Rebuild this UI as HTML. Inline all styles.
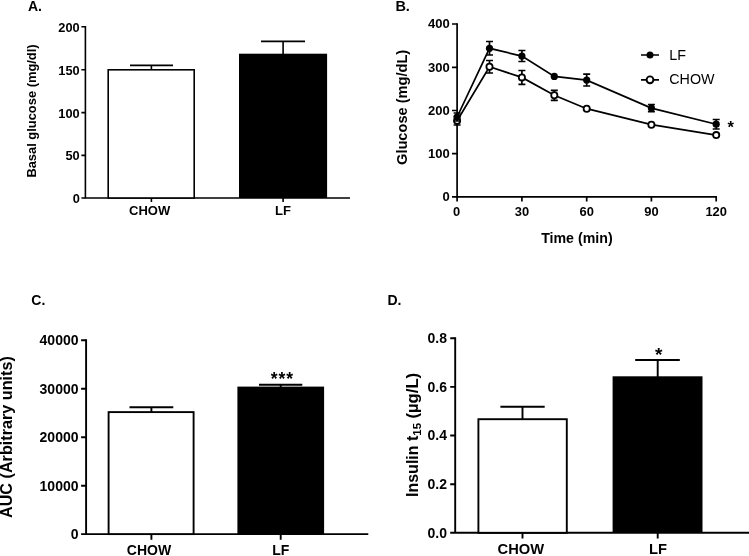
<!DOCTYPE html>
<html>
<head>
<meta charset="utf-8">
<title>Figure</title>
<style>
html,body{margin:0;padding:0;background:#fff;}
body{width:749px;height:556px;overflow:hidden;font-family:"Liberation Sans",sans-serif;}
svg{display:block;will-change:transform;filter:grayscale(1);}
text{font-family:"Liberation Sans",sans-serif;fill:#000;}
.b{font-weight:bold;}
</style>
</head>
<body>
<svg width="749" height="556" viewBox="0 0 749 556">
<rect x="0" y="0" width="749" height="556" fill="#fff"/>

<!-- ================= PANEL A ================= -->
<g id="pA" stroke="#000" stroke-width="1.6" fill="none" stroke-linecap="butt">
  <text class="b" x="28" y="11" font-size="14" stroke="none">A.</text>
  <!-- axes -->
  <path d="M85.4 25.9 V198 M84.6 198 H350"/>
  <!-- y ticks -->
  <path d="M81.4 26.7 H85.4 M81.4 69.7 H85.4 M81.4 112.6 H85.4 M81.4 155.4 H85.4 M81.4 198 H85.4"/>
  <!-- x ticks -->
  <path d="M151.4 198 V202 M283.1 198 V202"/>
  <!-- error bars -->
  <path d="M151.4 70 V65.4 M130 65.4 H173"/>
  <path d="M283.1 54 V41.4 M261 41.4 H305"/>
  <!-- bars -->
  <rect x="108.2" y="69.8" width="86" height="128.2" fill="#fff"/>
  <rect x="239" y="53.7" width="88.1" height="144.3" fill="#000" stroke="none"/>
  <g stroke="none" class="b" font-size="12.8" text-anchor="end">
    <text x="79.7" y="31.9">200</text>
    <text x="79.7" y="74.8">150</text>
    <text x="79.7" y="117.6">100</text>
    <text x="79.7" y="160.3">50</text>
    <text x="79.8" y="202.8">0</text>
  </g>
  <g stroke="none" class="b" font-size="13" text-anchor="middle">
    <text x="149.6" y="215.4">CHOW</text>
    <text x="283" y="215.4">LF</text>
  </g>
  <text class="b" stroke="none" font-size="12.9" text-anchor="middle" transform="translate(36.1 111) rotate(-90)">Basal glucose (mg/dl)</text>
</g>

<!-- ================= PANEL B ================= -->
<g id="pB" stroke="#000" stroke-width="1.7" fill="none">
  <text class="b" x="395.4" y="11" font-size="14.5" stroke="none">B.</text>
  <!-- axes -->
  <path d="M457.1 23.2 V201.6 M452 196.9 H717"/>
  <!-- y ticks -->
  <path d="M452 24 H457.1 M452 67.3 H457.1 M452 110.5 H457.1 M452 153.7 H457.1"/>
  <!-- x ticks -->
  <path d="M521.9 196.9 V201.6 M586.7 196.9 V201.6 M651.4 196.9 V201.6 M716.2 196.9 V201.6"/>
  <!-- CHOW series -->
  <g id="chow">
    <path d="M457.1 120.7 L489.5 66.8 L521.9 77.4 L554.3 95.3 L586.7 108.7 L651.4 124.7 L716.2 135.1"/>
    <path d="M457.1 116.5 V125 M453.6 116.5 H460.6 M453.6 125 H460.6"/>
    <path d="M489.5 60.5 V73 M486 60.5 H493 M486 73 H493"/>
    <path d="M521.9 70.5 V84.3 M518.4 70.5 H525.4 M518.4 84.3 H525.4"/>
    <path d="M554.3 90.3 V100.3 M550.8 90.3 H557.8 M550.8 100.3 H557.8"/>
    <g fill="#fff" stroke-width="1.8">
      <circle cx="457.1" cy="120.7" r="3.1"/><circle cx="489.5" cy="66.8" r="3.1"/><circle cx="521.9" cy="77.4" r="3.1"/>
      <circle cx="554.3" cy="95.3" r="3.1"/><circle cx="586.7" cy="108.7" r="3.1"/><circle cx="651.4" cy="124.7" r="3.1"/>
      <circle cx="716.2" cy="135.1" r="3.1"/>
    </g>
  </g>
  <!-- LF series -->
  <g id="lf">
    <path d="M457.1 117 L489.5 48.3 L521.9 56.1 L554.3 76.4 L586.7 80.1 L651.4 108.1 L716.2 124.2"/>
    <!-- error bars -->
    <path d="M457.1 113 V121 M453.6 113 H460.6 M453.6 121 H460.6"/>
    <path d="M489.5 41.5 V55 M486 41.5 H493 M486 55 H493"/>
    <path d="M521.9 50.5 V61.5 M518.4 50.5 H525.4 M518.4 61.5 H525.4"/>
    <path d="M586.7 74.2 V86 M583.2 74.2 H590.2 M583.2 86 H590.2"/>
    <path d="M651.4 104.5 V111.7 M647.9 104.5 H654.9 M647.9 111.7 H654.9"/>
    <path d="M716.2 119.5 V129 M712.7 119.5 H719.7 M712.7 129 H719.7"/>
    <g fill="#000" stroke="none">
      <circle cx="457.1" cy="117" r="3.6"/><circle cx="489.5" cy="48.3" r="3.6"/><circle cx="521.9" cy="56.1" r="3.6"/>
      <circle cx="554.3" cy="76.4" r="3.6"/><circle cx="586.7" cy="80.1" r="3.6"/><circle cx="651.4" cy="108.1" r="3.6"/>
      <circle cx="716.2" cy="124.2" r="3.6"/>
    </g>
  </g>
  <!-- legend -->
  <path d="M641 55 H659 M641 79.8 H659"/>
  <circle cx="650" cy="55" r="3.5" fill="#000" stroke="none"/>
  <circle cx="650" cy="79.8" r="3.4" fill="#fff" stroke-width="1.9"/>
  <g stroke="none" font-size="14.3">
    <text x="669.3" y="59.7">LF</text>
    <text x="669.3" y="84.1">CHOW</text>
  </g>
  <text class="b" stroke="none" font-size="16.5" x="727.6" y="132.6">*</text>
  <g stroke="none" class="b" font-size="13" text-anchor="end">
    <text x="449.8" y="28.2">400</text>
    <text x="449.8" y="71.5">300</text>
    <text x="449.8" y="114.7">200</text>
    <text x="449.8" y="157.8">100</text>
    <text x="449.8" y="200.9">0</text>
  </g>
  <g stroke="none" class="b" font-size="12.9" text-anchor="middle">
    <text x="456.7" y="215.9">0</text>
    <text x="521.9" y="215.9">30</text>
    <text x="586.7" y="215.9">60</text>
    <text x="651.4" y="215.9">90</text>
    <text x="716.2" y="215.9">120</text>
  </g>
  <text class="b" stroke="none" font-size="14.2" text-anchor="middle" x="576.9" y="243.1">Time (min)</text>
  <text class="b" stroke="none" font-size="14.6" text-anchor="middle" transform="translate(406.8 107.4) rotate(-90)">Glucose (mg/dL)</text>
</g>

<!-- ================= PANEL C ================= -->
<g id="pC" stroke="#000" stroke-width="1.9" fill="none">
  <text class="b" x="31.3" y="305.4" font-size="14" stroke="none">C.</text>
  <path d="M86.1 339.3 V534.1 M85.2 534.1 H368.3"/>
  <path d="M81.1 340.2 H86.1 M81.1 388.7 H86.1 M81.1 437.2 H86.1 M81.1 485.7 H86.1 M81.1 534.1 H86.1"/>
  <path d="M151.4 534.1 V539.8 M280.7 534.1 V539.8"/>
  <path d="M151.4 412 V407.2 M129.5 407.2 H173.3"/>
  <path d="M280.7 387 V384.7 M259 384.7 H302.3"/>
  <rect x="108.6" y="412.1" width="85" height="122" fill="#fff"/>
  <rect x="237.4" y="386.6" width="86.7" height="147.5" fill="#000" stroke="none"/>
  <g stroke="none" class="b" font-size="14" text-anchor="end">
    <text x="78.5" y="345">40000</text>
    <text x="78.5" y="393.5">30000</text>
    <text x="78.5" y="442">20000</text>
    <text x="78.5" y="490.5">10000</text>
    <text x="78.5" y="538.9">0</text>
  </g>
  <g stroke="none" class="b" font-size="14" text-anchor="middle">
    <text x="149" y="555.2">CHOW</text>
    <text x="280.8" y="555.2">LF</text>
  </g>
  <text class="b" stroke="none" font-size="17.5" letter-spacing="0.9" text-anchor="middle" x="282.3" y="385">***</text>
  <text class="b" stroke="none" font-size="16.2" text-anchor="middle" transform="translate(11.9 437.1) rotate(-90)">AUC (Arbitrary units)</text>
</g>

<!-- ================= PANEL D ================= -->
<g id="pD" stroke="#000" stroke-width="1.9" fill="none">
  <text class="b" x="387.5" y="305.4" font-size="14" stroke="none">D.</text>
  <path d="M455.2 337.3 V532.8 M450.2 532.8 H749"/>
  <path d="M450.2 338.2 H455.2 M450.2 386.9 H455.2 M450.2 435.5 H455.2 M450.2 484.2 H455.2"/>
  <path d="M522.5 532.8 V538.6 M657.7 532.8 V538.6"/>
  <path d="M522.5 419 V406.7 M500.4 406.7 H544.7"/>
  <path d="M657.7 377 V360 M635.2 360 H679.8"/>
  <rect x="478.4" y="419.2" width="88.4" height="113.6" fill="#fff"/>
  <rect x="612.6" y="376.3" width="89.9" height="156.5" fill="#000" stroke="none"/>
  <g stroke="none" class="b" font-size="14" text-anchor="end">
    <text x="447" y="343">0.8</text>
    <text x="447" y="391.7">0.6</text>
    <text x="447" y="440.3">0.4</text>
    <text x="447" y="489">0.2</text>
    <text x="447" y="537.6">0.0</text>
  </g>
  <g stroke="none" class="b" font-size="14.7" text-anchor="middle">
    <text x="520.8" y="554.4">CHOW</text>
    <text x="658" y="554.3">LF</text>
  </g>
  <text class="b" stroke="none" font-size="19" text-anchor="middle" x="658.8" y="360.6">*</text>
  <g class="b" stroke="none" transform="translate(418 497) rotate(-90)">
    <text font-size="16" x="0" y="0">Insulin t<tspan font-size="11.5" dy="3.4">15</tspan></text>
    <text font-size="16.7" text-anchor="end" x="124.2" y="0">(µg/L)</text>
  </g>
</g>
</svg>
</body>
</html>
